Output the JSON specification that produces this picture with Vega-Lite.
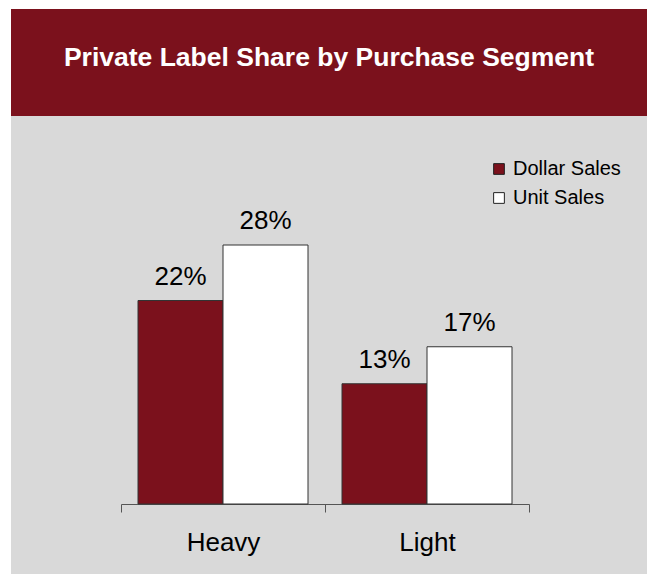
{
  "$schema": "https://vega.github.io/schema/vega-lite/v6.json",
  "background": "white",
  "padding": {"left": 11, "top": 9, "right": 0, "bottom": 0},
  "spacing": 0,
  "config": {"concat": {"spacing": 0}, "font": "Liberation Sans"},
  "vconcat": [
    {
      "width": 636,
      "height": 107,
      "view": {"fill": "#7B111C", "stroke": null},
      "data": {"values": [{"label": "Private Label Share by Purchase Segment"}]},
      "mark": {"type": "text", "font": "Liberation Sans", "fontWeight": "bold", "fontSize": 26.5, "color": "white", "baseline": "middle", "dy": -5},
      "encoding": {"text": {"field": "label", "type": "nominal"}}
    },
    {
      "width": 636,
      "height": 458,
      "view": {"fill": "#D9D9D9", "stroke": null},
      "data": {"values": [
        {"Segment": "Heavy", "Measure": "Dollar Sales", "Share": 0.22},
        {"Segment": "Heavy", "Measure": "Unit Sales", "Share": 0.28},
        {"Segment": "Light", "Measure": "Dollar Sales", "Share": 0.13},
        {"Segment": "Light", "Measure": "Unit Sales", "Share": 0.17}
      ]},
      "encoding": {
        "x": {
          "field": "Segment", "type": "nominal", "sort": ["Heavy", "Light"],
          "scale": {"range": [110, 518], "paddingInner": 0, "paddingOuter": 0},
          "axis": {"title": null, "orient": "bottom", "offset": -70, "domainColor": "#555555", "tickColor": "#555555", "tickSize": 8, "tickBand": "extent", "labelFont": "Liberation Sans", "labelFontSize": 26, "labelColor": "black", "labelPadding": 17, "labelAngle": 0, "domainWidth": 1, "tickWidth": 1}
        },
        "xOffset": {"field": "Measure", "type": "nominal", "sort": ["Dollar Sales", "Unit Sales"], "scale": {"paddingInner": 0, "paddingOuter": 0.2}},
        "y": {"field": "Share", "type": "quantitative", "scale": {"domain": [0, 0.4], "range": [388, 18]}, "axis": null}
      },
      "layer": [
        {
          "mark": {"type": "bar", "stroke": "#333333", "strokeWidth": 1},
          "encoding": {
            "color": {
              "field": "Measure", "type": "nominal",
              "scale": {"domain": ["Dollar Sales", "Unit Sales"], "range": ["#7B111C", "#FFFFFF"]},
              "legend": {"orient": "none", "legendX": 478, "legendY": 150, "title": null, "symbolType": "square", "symbolSize": 115, "symbolStrokeColor": "#222222", "symbolStrokeWidth": 1, "symbolOpacity": 1, "labelFont": "Liberation Sans", "labelFontSize": 20, "labelColor": "black", "rowPadding": 9, "labelOffset": 4}
            }
          }
        },
        {
          "mark": {"type": "text", "font": "Liberation Sans", "fontSize": 26, "baseline": "alphabetic", "dy": -16, "color": "black"},
          "encoding": {"text": {"field": "Share", "type": "quantitative", "format": ".0%"}}
        }
      ]
    }
  ]
}
